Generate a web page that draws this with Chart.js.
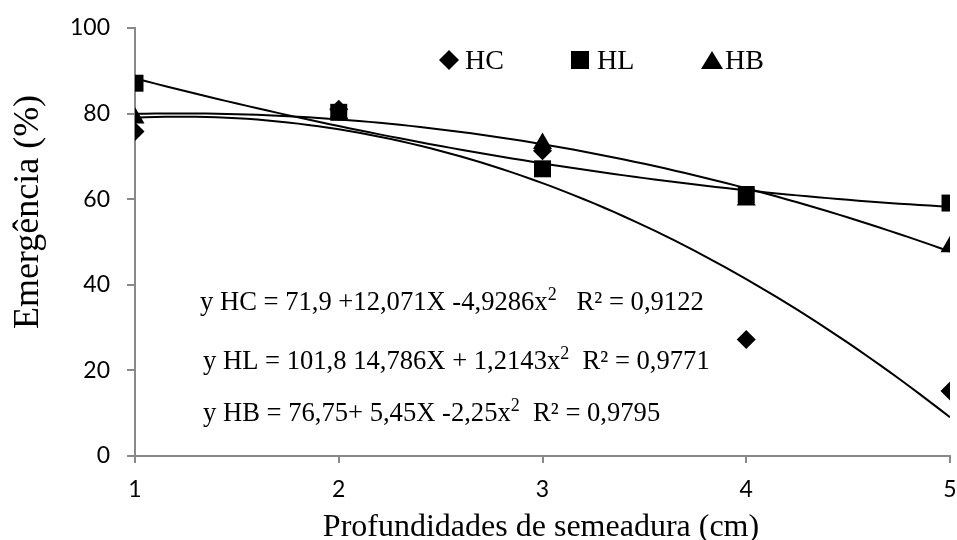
<!DOCTYPE html>
<html>
<head>
<meta charset="utf-8">
<script src="https://cdn.jsdelivr.net/npm/chart.js@4.4.1/dist/chart.umd.min.js"></script>
<style>
  html, body { margin: 0; padding: 0; background: #fff; overflow: hidden; }
  #wrap { width: 957px; height: 540px; overflow: hidden; }
</style>
</head>
<body>
<div id="wrap"><canvas id="chart" width="962" height="540"></canvas></div>
<script>
// depths (cm) and emergence (%)
const depths = [1, 2, 3, 4, 5];
const hcValues = [75.8, 81, 71.3, 27.2, 15.2];
const hlValues = [87.1, 80.3, 67.1, 61.1, 59.1];
const hbValues = [79, 80, 73, 59.8, 48.9];

const xTicks = [1, 2, 3, 4, 5];
const yTicks = [0, 20, 40, 60, 80, 100];

// quadratic fits printed on the chart: a + bX + cX²
const hcFit = [71.9, 12.071, -4.9286];
const hlFit = [101.8, -14.786, 1.2143];
const hbFit = [76.75, 5.45, -2.25];

const seriesNames = ['HC', 'HL', 'HB'];
const equations = [
    ['y HC = 71,9 +12,071X -4,9286x', '2', '   R² = 0,9122'],
    ['y HL = 101,8 14,786X + 1,2143x', '2', '  R² = 0,9771'],
    ['y HB = 76,75+ 5,45X -2,25x', '2', '  R² = 0,9795']
];

const serif = '"Liberation Serif", "Times New Roman", serif';
const axisGray = '#898989';

const toPoints = (xs, ys) => xs.map((x, i) => ({ x: x, y: ys[i] }));

// trend curve from the printed coefficients
const fitCurve = (coef) => {
    const pts = [];
    for (let i = 0; i <= 80; i++) {
        const x = 1 + i * 0.05;
        pts.push({ x: x, y: coef[0] + coef[1] * x + coef[2] * x * x });
    }
    return pts;
};

const markerSet = (label, data, style, radius, order) => ({
    label: label,
    data: data,
    showLine: false,
    pointStyle: style,
    pointRadius: radius,
    pointHoverRadius: radius,
    pointBackgroundColor: '#000',
    pointBorderColor: '#000',
    pointBorderWidth: 0,
    order: order
});

const trendSet = (data) => ({
    data: data,
    showLine: true,
    borderColor: '#000',
    borderWidth: 2,
    pointRadius: 0,
    fill: false,
    tension: 0,
    order: 5
});

// legend, equations and axis titles drawn on top
const annotations = {
    id: 'annotations',
    afterDraw(chart) {
        const ctx = chart.ctx;
        ctx.save();
        ctx.fillStyle = '#000';

        // legend
        const legendY = 60;
        ctx.beginPath();
        ctx.moveTo(439, legendY); ctx.lineTo(449, legendY - 10);
        ctx.lineTo(459, legendY); ctx.lineTo(449, legendY + 10);
        ctx.closePath(); ctx.fill();
        ctx.fillRect(571, legendY - 9, 18, 18);
        ctx.beginPath();
        ctx.moveTo(712, legendY - 9); ctx.lineTo(723, legendY + 9);
        ctx.lineTo(701, legendY + 9); ctx.closePath(); ctx.fill();

        ctx.font = '28px ' + serif;
        ctx.textBaseline = 'alphabetic';
        ctx.textAlign = 'left';
        ctx.fillText(seriesNames[0], 465, 69);
        ctx.fillText(seriesNames[1], 597, 69);
        ctx.fillText(seriesNames[2], 725, 69);

        // equations
        const eqPos = [[200, 310], [203, 369], [203, 421]];
        equations.forEach((eq, i) => {
            let x = eqPos[i][0];
            const y = eqPos[i][1];
            ctx.font = '26.6px ' + serif;
            ctx.fillText(eq[0], x, y);
            x += ctx.measureText(eq[0]).width;
            ctx.font = '18px ' + serif;
            ctx.fillText(eq[1], x, y - 10);
            x += ctx.measureText(eq[1]).width;
            ctx.font = '26.6px ' + serif;
            ctx.fillText(eq[2], x, y);
        });

        // axis titles
        ctx.font = '32px ' + serif;
        ctx.textAlign = 'center';
        ctx.fillText('Profundidades de semeadura (cm)', 541, 536);

        ctx.font = '36px ' + serif;
        ctx.translate(38, 212);
        ctx.rotate(-Math.PI / 2);
        ctx.fillText('Emergência (%)', 0, 0);
        ctx.restore();
    }
};

new Chart(document.getElementById('chart'), {
    type: 'scatter',
    data: {
        datasets: [
            markerSet('HC', toPoints(depths, hcValues), 'rectRot', 9.5, 1),
            markerSet('HL', toPoints(depths, hlValues), 'rect', 12, 0),
            markerSet('HB', toPoints(depths, hbValues), 'triangle', 11, 2),
            trendSet(fitCurve(hcFit)),
            trendSet(fitCurve(hlFit)),
            trendSet(fitCurve(hbFit))
        ]
    },
    options: {
        responsive: false,
        animation: false,
        devicePixelRatio: 1,
        layout: { padding: { left: 0, right: 0, top: 28, bottom: 0 } },
        plugins: {
            legend: { display: false },
            tooltip: { enabled: false },
            title: { display: false }
        },
        scales: {
            x: {
                type: 'linear',
                min: 1,
                max: 5,
                afterBuildTicks: (s) => { s.ticks = xTicks.map(v => ({ value: v })); },
                afterFit: (s) => { s.height = 84; s.paddingLeft = 0; s.paddingRight = 0; },
                grid: { drawOnChartArea: false, drawTicks: true, tickLength: 7, color: axisGray, lineWidth: 2 },
                border: { display: true, color: axisGray, width: 2 },
                ticks: { color: '#000', padding: 13, font: { family: 'Lato', size: 23 } }
            },
            y: {
                min: 0,
                max: 100,
                afterBuildTicks: (s) => { s.ticks = yTicks.map(v => ({ value: v })); },
                afterFit: (s) => { s.width = 135; s.paddingTop = 0; s.paddingBottom = 0; },
                grid: { drawOnChartArea: false, drawTicks: true, tickLength: 8, color: axisGray, lineWidth: 2 },
                border: { display: true, color: axisGray, width: 2 },
                ticks: { color: '#000', padding: 17, font: { family: 'Lato', size: 23 } }
            }
        }
    },
    plugins: [annotations]
});
</script>
</body>
</html>
